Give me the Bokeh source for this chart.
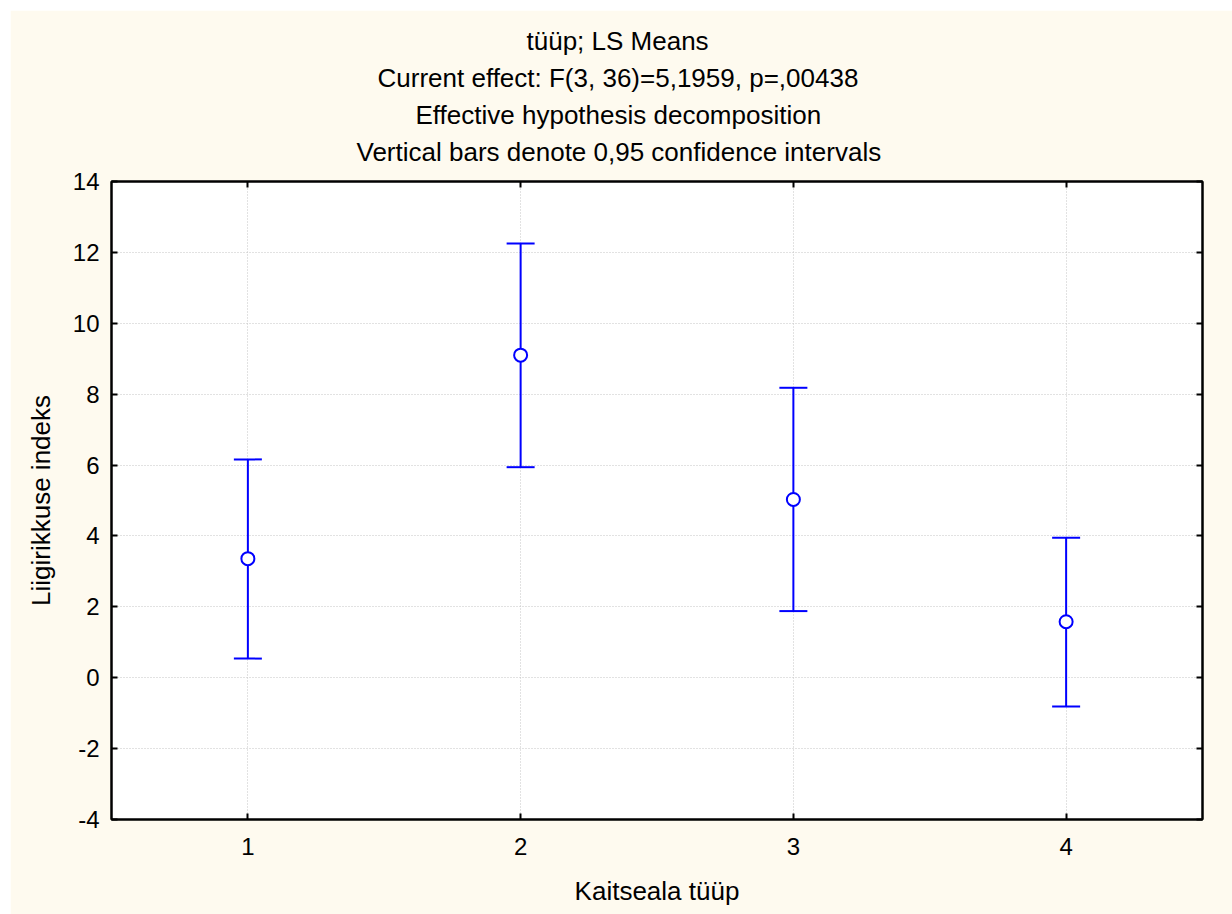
from bokeh.plotting import figure
from bokeh.models import (Range1d, FixedTicker, LinearAxis, Title, Whisker,
                          TeeHead, ColumnDataSource)
from bokeh.embed import file_html
from bokeh.resources import INLINE

categories = [1, 2, 3, 4]
means = [3.36, 9.10, 5.03, 1.58]
upper = [6.16, 12.25, 8.18, 3.95]
lower = [0.54, 5.94, 1.88, -0.81]
y_ticks = [-4, -2, 0, 2, 4, 6, 8, 10, 12, 14]
title_lines = ["tüüp; LS Means",
               "Current effect: F(3, 36)=5,1959, p=,00438",
               "Effective hypothesis decomposition",
               "Vertical bars denote 0,95 confidence intervals"]
x_label = "Kaitseala tüüp"
y_label = "Liigirikkuse indeks"

FONT = "Liberation Sans"
BG = "#FEFAEF"
BLUE = "#0000FF"

src = ColumnDataSource(dict(x=categories, m=means, up=upper, lo=lower))

p = figure(width=1222, height=904, output_backend="svg", toolbar_location=None,
           x_range=Range1d(0.5, 4.5), y_range=Range1d(-4, 14),
           x_axis_location=None, y_axis_location=None,
           min_border_left=101, min_border_right=30, min_border_top=171,
           min_border_bottom=95, title=None)
p.margin = (10, 0, 0, 10)
p.background_fill_color = "white"
p.border_fill_color = BG
p.outline_line_color = "black"
p.outline_line_width = 2

def mk_axis(labels=True, axis_label=None):
    ax = LinearAxis()
    ax.axis_line_color = "black"
    ax.axis_line_width = 2
    ax.major_tick_in = 6
    ax.major_tick_out = 0
    ax.major_tick_line_width = 2
    ax.minor_tick_line_color = None
    ax.major_label_text_font = FONT
    ax.major_label_text_font_size = "24px"
    ax.major_label_text_color = "black"
    if not labels:
        ax.major_label_text_font_size = "0px"
        ax.major_label_text_color = None
        ax.major_label_standoff = 0
    if axis_label:
        ax.axis_label = axis_label
        ax.axis_label_text_font = FONT
        ax.axis_label_text_font_size = "26px"
        ax.axis_label_text_font_style = "normal"
        ax.axis_label_text_color = "black"
    return ax

xt = FixedTicker(ticks=categories)
yt = FixedTicker(ticks=y_ticks)

bottom = mk_axis(True, x_label); bottom.ticker = xt
bottom.major_label_standoff = 18; bottom.axis_label_standoff = 18
left = mk_axis(True, y_label); left.ticker = yt
left.major_label_standoff = 12; left.axis_label_standoff = 14
left.major_label_overrides = {t: str(t) for t in y_ticks}
top = mk_axis(False); top.ticker = xt
right = mk_axis(False); right.ticker = yt
p.add_layout(bottom, "below")
p.add_layout(left, "left")
p.add_layout(top, "above")
p.add_layout(right, "right")

# invisible spacer between the frame and the title lines
spacer = LinearAxis(ticker=xt, axis_line_color=None, major_tick_line_color=None,
                    minor_tick_line_color=None, major_tick_in=0, major_tick_out=12,
                    major_label_text_font_size="0px", major_label_text_color=None,
                    major_label_standoff=0)
p.add_layout(spacer, "above")

p.xgrid.ticker = xt
p.ygrid.ticker = yt
for g in (p.xgrid, p.ygrid):
    g.grid_line_color = "#C4C4C4"
    g.grid_line_dash = "1 2"
    g.grid_line_width = 1

# titles centred on the whole canvas (left-aligned with per-line offsets)
title_offsets = [415, 266, 304, 245]
for t, off in zip(reversed(title_lines), reversed(title_offsets)):
    p.add_layout(Title(text=t, align="left", text_font=FONT,
                       text_font_size="26px", text_font_style="normal",
                       text_color="black", standoff=5, offset=off), "above")

wh = Whisker(base="x", upper="up", lower="lo", source=src,
             line_color=BLUE, line_width=2,
             upper_head=TeeHead(size=28, line_color=BLUE, line_width=2),
             lower_head=TeeHead(size=28, line_color=BLUE, line_width=2))
p.add_layout(wh)

p.scatter("x", "m", source=src, marker="circle", size=13,
          fill_color="white", line_color=BLUE, line_width=2)

open("out.html", "w").write(file_html(p, INLINE))
